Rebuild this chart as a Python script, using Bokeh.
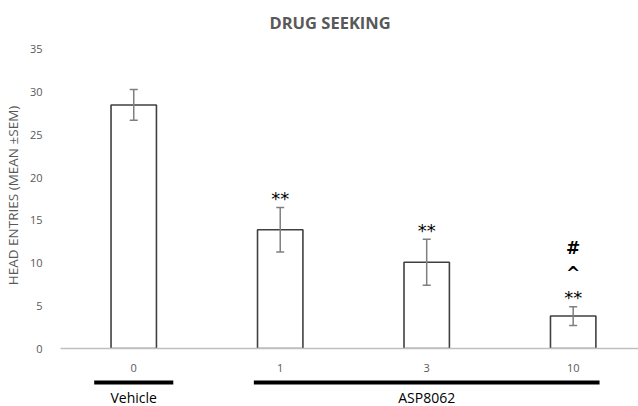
from bokeh.plotting import figure
from bokeh.layouts import column
from bokeh.models import Range1d, FixedTicker, ColumnDataSource, Whisker
from bokeh.core.properties import value
from bokeh.embed import file_html
from bokeh.resources import INLINE

# --- data -----------------------------------------------------------------
doses = ["0", "1", "3", "10"]
means = [28.5, 13.9, 10.1, 3.8]
sems = [1.8, 2.6, 2.7, 1.1]
marks = [[], ["**"], ["**"], ["**", "^", "#"]]

groups = ["Vehicle", "ASP8062"]
group_first = [0, 1]
group_last = [0, 3]
group_pad = [0.27, 0.18]

y_ticks = [0, 5, 10, 15, 20, 25, 30, 35]

# --- geometry -------------------------------------------------------------
W = 638
LEFT, TOP = 54, 40
H_MAIN, BOTTOM = 374, 26          # main chart: frame rows TOP .. H_MAIN-BOTTOM
H_GROUPS = 406 - H_MAIN           # strip with the group bars underneath
PX_PER_CAT = 148.0
PX_PER_UNIT = 8.6
frame_w = W - LEFT
frame_h = H_MAIN - TOP - BOTTOM

grey = "#595959"
font = "Open Sans"

x_rng = Range1d(-0.5, -0.5 + frame_w / PX_PER_CAT)
y_rng = Range1d(0, frame_h / PX_PER_UNIT)

p = figure(width=W, height=H_MAIN, x_range=x_rng, y_range=y_rng,
           output_backend="svg", toolbar_location=None,
           min_border_left=LEFT, min_border_top=TOP,
           min_border_right=0, min_border_bottom=BOTTOM)
p.outline_line_color = None
p.grid.visible = False

p.title.text = "DRUG SEEKING"
p.title.align = "left"
p.title.offset = 209
p.title.text_font = font
p.title.text_font_size = "16.5px"
p.title.text_font_style = "bold"
p.title.text_color = grey
p.title.standoff = 17

yax = p.yaxis[0]
yax.ticker = FixedTicker(ticks=y_ticks)
yax.axis_line_color = None
yax.major_tick_line_color = None
yax.minor_tick_line_color = None
yax.major_label_standoff = 12
yax.major_label_text_font = font
yax.major_label_text_font_size = "11px"
yax.major_label_text_color = grey
yax.axis_label = "HEAD ENTRIES (MEAN \u00b1SEM)"
yax.axis_label_text_font = font
yax.axis_label_text_font_size = "13.5px"
yax.axis_label_text_font_style = "normal"
yax.axis_label_text_color = grey
yax.axis_label_standoff = 5

xax = p.xaxis[0]
xax.ticker = FixedTicker(ticks=list(range(len(doses))))
xax.major_label_overrides = {i: d for i, d in enumerate(doses)}
xax.axis_line_color = "#bfbfbf"
xax.axis_line_width = 1.5
xax.major_tick_line_color = None
xax.minor_tick_line_color = None
xax.major_label_standoff = 9
xax.major_label_text_font = font
xax.major_label_text_font_size = "11px"
xax.major_label_text_color = grey

xs = list(range(len(doses)))
src = ColumnDataSource(dict(
    x=xs, mean=means,
    lo=[m - s for m, s in zip(means, sems)],
    hi=[m + s for m, s in zip(means, sems)],
))

p.vbar(x="x", top="mean", bottom=0, width=0.31, source=src,
       fill_color="white", line_color="#404040", line_width=1.6)

wh = Whisker(base="x", lower="lo", upper="hi", source=src, level="overlay",
             line_color="#7f7f7f", line_width=1.5)
for head in (wh.upper_head, wh.lower_head):
    head.size = 8
    head.line_color = "#7f7f7f"
    head.line_width = 1.5
p.add_layout(wh)

# significance marks stacked above the error bars
star = dict(x=[], y=[], text=[], off=[])
sym = dict(x=[], y=[], text=[], off=[])
for i, ms in enumerate(marks):
    for k, t in enumerate(ms):
        d = star if t == "**" else sym
        d["x"].append(i)
        d["y"].append(means[i] + sems[i])
        d["text"].append(t)
        d["off"].append(-9 - 25 * k)
p.text(x="x", y="y", text="text", y_offset="off", source=ColumnDataSource(star),
       text_font=value("DejaVu Sans"), text_font_size="18px",
       text_color="black", text_align="center", text_baseline="middle")
p.text(x="x", y="y", text="text", y_offset="off", source=ColumnDataSource(sym),
       text_font=value("DejaVu Sans"), text_font_size="17px",
       text_font_style="bold", text_color="black",
       text_align="center", text_baseline="middle")

# --- group bars and names under the dose labels -----------------------------
g = figure(width=W, height=H_GROUPS, x_range=x_rng, y_range=Range1d(0, H_GROUPS),
           output_backend="svg", toolbar_location=None,
           x_axis_location=None, y_axis_location=None,
           min_border_left=LEFT, min_border_right=0,
           min_border_top=0, min_border_bottom=0)
g.outline_line_color = None
g.grid.visible = False

gx0 = [f - pd for f, pd in zip(group_first, group_pad)]
gx1 = [l + pd for l, pd in zip(group_last, group_pad)]
gxc = [(a + b) / 2 for a, b in zip(group_first, group_last)]
g.segment(x0=gx0, x1=gx1, y0=H_GROUPS - 8, y1=H_GROUPS - 8,
          line_color="black", line_width=4)
g.text(x=gxc, y=H_GROUPS - 23, text=groups,
       text_font=value(font), text_font_size="14px", text_color="black",
       text_align="center", text_baseline="middle")

layout = column(p, g, spacing=0)
open("out.html", "w").write(file_html(layout, INLINE))
